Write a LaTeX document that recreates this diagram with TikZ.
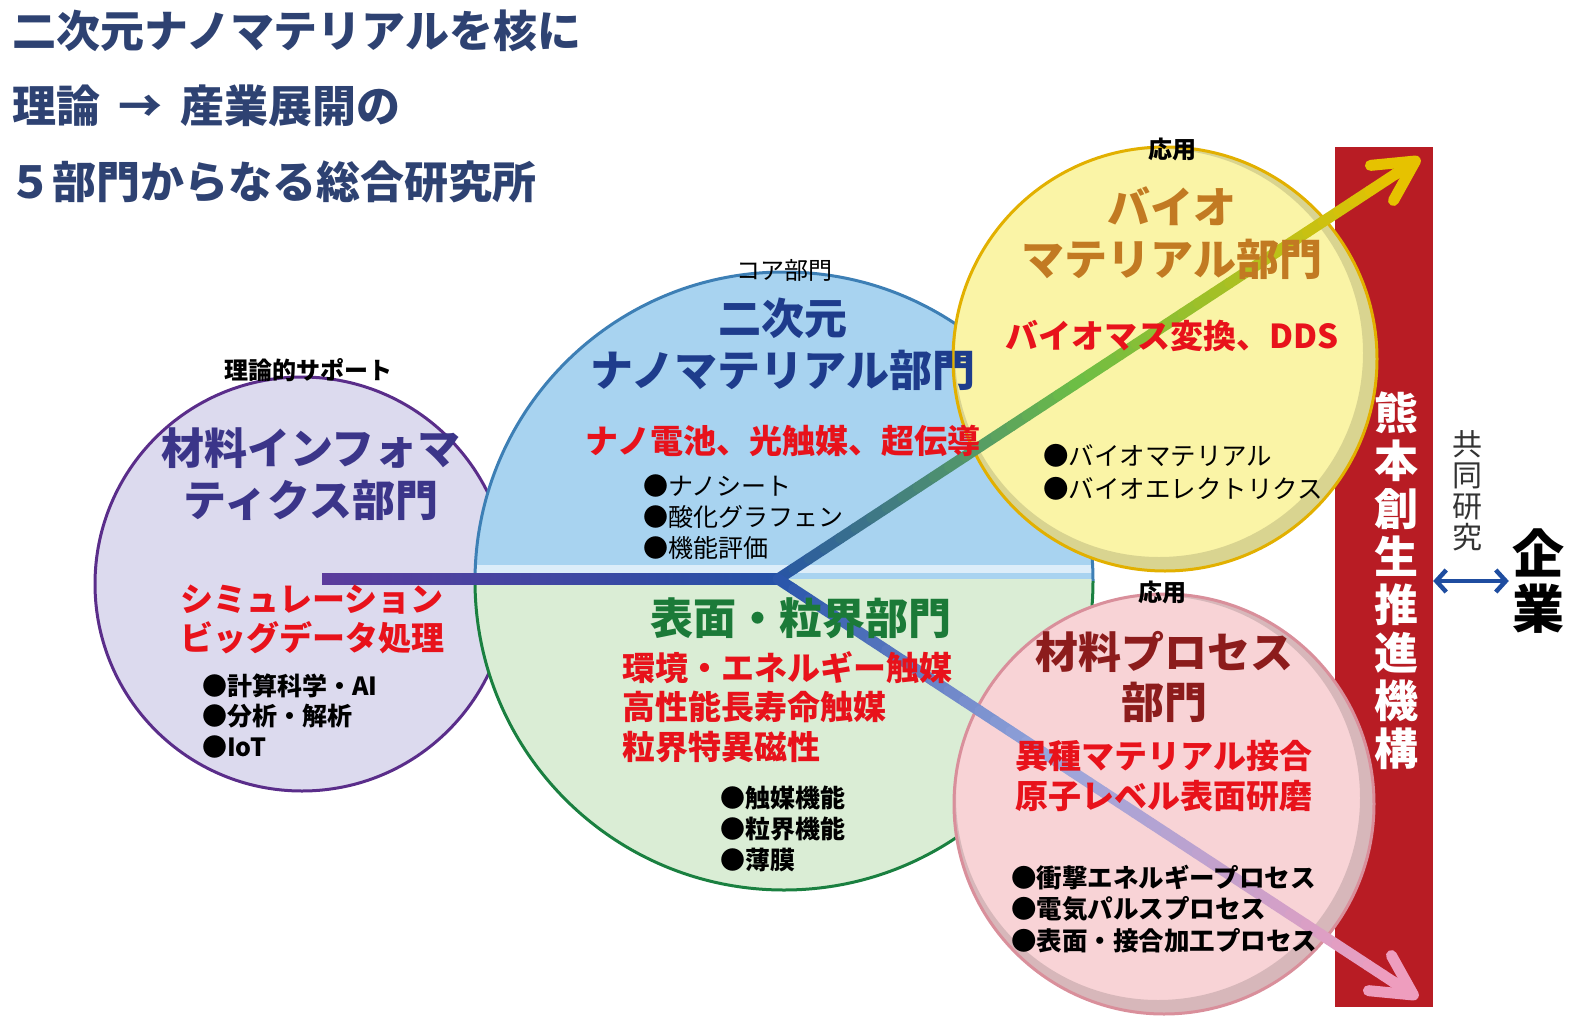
\documentclass[tikz,border=0pt]{standalone}
\usepackage{fontspec}
\setmainfont{Noto Sans CJK JP}
\usetikzlibrary{arrows.meta,calc}

\definecolor{titlenavy}{HTML}{2E4272}
\definecolor{infofill}{HTML}{DCDAEE}
\definecolor{infoline}{HTML}{5A2D8A}
\definecolor{infotext}{HTML}{3B3589}
\definecolor{nanofill}{HTML}{A8D3F0}
\definecolor{nanoline}{HTML}{3D7FB5}
\definecolor{nanotext}{HTML}{1E3C8C}
\definecolor{surffill}{HTML}{DAEDD5}
\definecolor{surfline}{HTML}{1A8040}
\definecolor{surftext}{HTML}{1B7A38}
\definecolor{biofill}{HTML}{FAF4A6}
\definecolor{bioline}{HTML}{E2B000}
\definecolor{biotext}{HTML}{C27A22}
\definecolor{procfill}{HTML}{F8D3D6}
\definecolor{procline}{HTML}{D98F9B}
\definecolor{proctext}{HTML}{8C1C1C}
\definecolor{themered}{HTML}{E8121B}
\definecolor{barred}{HTML}{B81C24}
\definecolor{linkblue}{HTML}{1F4DA0}
\definecolor{arrpurple}{HTML}{5B3B9C}
\definecolor{arrblue}{HTML}{2552A8}
\definecolor{arrgreen}{HTML}{6DBE45}
\definecolor{arryellow}{HTML}{E6C200}
\definecolor{arrlav}{HTML}{98A6DC}
\definecolor{arrpink}{HTML}{EE9DBE}

\tikzset{
  titletext/.style={anchor=west, text=titlenavy, font=\bfseries\fontsize{44}{44}\selectfont},
  tagtext/.style={font=\bfseries\fontsize{24}{24}\selectfont},
  depttext/.style={align=center, font=\bfseries\fontsize{43}{52}\selectfont},
  themetext/.style={text=themered, font=\bfseries\fontsize{33}{39}\selectfont},
  itemtext/.style={anchor=west, align=left, font=\fontsize{25}{31}\selectfont},
  deptcircle/.style={circle, line width=3pt, inner sep=0pt},
  rimshade/.style={black, opacity=0.13, line width=16pt}
}

\begin{document}
\begin{tikzpicture}[x=1pt, y=-1pt, every node/.style={inner sep=0pt}]
  \useasboundingbox (0,0) rectangle (1580,1020);

  % heading
  \node[titletext] (title1) at (12,31) {二次元ナノマテリアルを核に};
  \node[titletext] (title2) at (12,106) {理論\hspace{18pt}→\hspace{18pt}産業展開の};
  \node[titletext] (title3) at (8,182) {５部門からなる総合研究所};

  % red bar behind the circles
  \node[fill=barred, minimum width=98pt, minimum height=860pt] (bar) at (1384,577) {};

  % departments
  \node[deptcircle, fill=infofill, draw=infoline, minimum size=414pt] (infocircle) at (302,584) {};

  \coordinate (nanocenter) at (784,581);
  \begin{scope}
    \clip (nanocenter) circle[radius=309];
    \fill[nanofill] (460,260) rectangle (1100,579);
    \fill[surffill] (460,579) rectangle (1100,900);
    \fill[white!60!nanofill] (460,565) rectangle (1100,573);
  \end{scope}
  \draw[nanoline, line width=3pt] (nanocenter) ++(180:309) arc[start angle=180, end angle=360, radius=309];
  \draw[surfline, line width=3pt] (nanocenter) ++(0:309) arc[start angle=0, end angle=180, radius=309];

  \node[deptcircle, fill=biofill, minimum size=424pt] (biocircle) at (1165,359) {};
  \begin{scope}
    \clip (biocircle.center) circle[radius=212];
    \draw[rimshade] ($(biocircle.center)+(-6,-6)$) circle[radius=212];
  \end{scope}
  \draw[bioline, line width=3pt] (biocircle.center) circle[radius=212];

  \node[deptcircle, fill=procfill, minimum size=420pt] (proccircle) at (1164,804) {};
  \begin{scope}
    \clip (proccircle.center) circle[radius=210];
    \draw[rimshade] ($(proccircle.center)+(-6,-6)$) circle[radius=210];
  \end{scope}
  \draw[procline, line width=3pt] (proccircle.center) circle[radius=210];

  % flow arrows
  \coordinate (infoend) at (322,579);
  \coordinate (hub) at (778,579);
  \coordinate (biotip) at (1420,158);
  \coordinate (proctip) at (1418,998);

  \shade[left color=arrpurple, right color=arrblue] ($(infoend)+(0,-5.5)$) rectangle ($(hub)+(0,5.5)$);

  \foreach \i in {1,...,40} {
    \pgfmathsetmacro\ta{(\i-1)/40*0.97}
    \pgfmathsetmacro\tb{\i/40*0.97}
    \ifnum\i<21
      \pgfmathtruncatemacro\q{5*\i}
      \colorlet{segcol}{arrgreen!\q!arrblue}
    \else
      \pgfmathtruncatemacro\q{5*(\i-20)}
      \colorlet{segcol}{arryellow!\q!arrgreen}
    \fi
    \draw[segcol, line width=11pt, line cap=round] ($(hub)!\ta!(biotip)$) -- ($(hub)!\tb!(biotip)$);
  }
  \draw[arryellow, line width=11pt, -{Straight Barb[length=40pt, width=42pt, round]}] ($(hub)!0.96!(biotip)$) -- (biotip);

  \foreach \i in {1,...,40} {
    \pgfmathsetmacro\ta{(\i-1)/40*0.97}
    \pgfmathsetmacro\tb{\i/40*0.97}
    \ifnum\i<19
      \pgfmathtruncatemacro\q{100*\i/18}
      \colorlet{segcol}{arrlav!\q!arrblue}
    \else
      \pgfmathtruncatemacro\q{100*(\i-18)/22}
      \colorlet{segcol}{arrpink!\q!arrlav}
    \fi
    \draw[segcol, line width=11pt, line cap=round] ($(hub)!\ta!(proctip)$) -- ($(hub)!\tb!(proctip)$);
  }
  \draw[arrpink, line width=11pt, -{Straight Barb[length=40pt, width=42pt, round]}] ($(hub)!0.96!(proctip)$) -- (proctip);

  % materials informatics
  \node[tagtext] (infotag) at (308,370) {理論的サポート};
  \node[depttext, text=infotext] (infohead) at (311,474) {材料インフォマ\\ティクス部門};
  \node[themetext, align=center] (infotheme) at (312,619) {シミュレーション\\ビッグデータ処理};
  \node[itemtext, font=\bfseries\fontsize{25}{30.5}\selectfont] (infoitems) at (202,716) {●計算科学・AI\\●分析・解析\\●IoT};

  % 2D nanomaterials
  \node[tagtext, font=\fontsize{24}{24}\selectfont] (nanotag) at (784,270) {コア部門};
  \node[depttext, text=nanotext] (nanohead) at (783,344) {二次元\\ナノマテリアル部門};
  \node[themetext] (nanotheme) at (783,441) {ナノ電池、光触媒、超伝導};
  \node[itemtext] (nanoitems) at (643,517) {●ナノシート\\●酸化グラフェン\\●機能評価};

  % surface and grain boundary
  \node[depttext, text=surftext] (surfhead) at (801,618) {表面・粒界部門};
  \node[themetext, anchor=west, align=left, font=\bfseries\fontsize{33}{39.5}\selectfont] (surftheme) at (622,707) {環境・エネルギー触媒\\高性能長寿命触媒\\粒界特異磁性};
  \node[itemtext, font=\bfseries\fontsize{25}{31}\selectfont] (surfitems) at (720,829) {●触媒機能\\●粒界機能\\●薄膜};

  % biomaterials
  \node[tagtext] (biotag) at (1172,149) {応用};
  \node[depttext, text=biotext] (biohead) at (1172,233) {バイオ\\マテリアル部門};
  \node[themetext] (biotheme) at (1172,336) {バイオマス変換、DDS};
  \node[itemtext, font=\fontsize{25.5}{33}\selectfont] (bioitems) at (1043,472) {●バイオマテリアル\\●バイオエレクトリクス};

  % materials process
  \node[tagtext] (proctag) at (1162,592) {応用};
  \node[depttext, text=proctext, font=\bfseries\fontsize{43}{50}\selectfont] (prochead) at (1164,677) {材料プロセス\\部門};
  \node[themetext, align=center, font=\bfseries\fontsize{33}{40}\selectfont] (proctheme) at (1164,776) {異種マテリアル接合\\原子レベル表面研磨};
  \node[itemtext, font=\bfseries\fontsize{25.5}{31.5}\selectfont] (procitems) at (1011,909) {●衝撃エネルギープロセス\\●電気パルスプロセス\\●表面・接合加工プロセス};

  % organisation and partners
  \node[text=white, align=center, font=\bfseries\fontsize{44}{48}\selectfont] (kikou) at (1396,581) {熊\\本\\創\\生\\推\\進\\機\\構};
  \node[text=black!80, align=center, font=\fontsize{30}{31}\selectfont] (kyodo) at (1467,491) {共\\同\\研\\究};
  \node[align=center, font=\bfseries\fontsize{52}{55}\selectfont] (kigyo) at (1538,581) {企\\業};
  \draw[linkblue, line width=4.5pt, {Straight Barb[length=10pt, width=22pt]}-{Straight Barb[length=10pt, width=22pt]}]
    (bar.east |- kigyo.west) -- ($(kigyo.west)+(-3,0)$);
\end{tikzpicture}
\end{document}
